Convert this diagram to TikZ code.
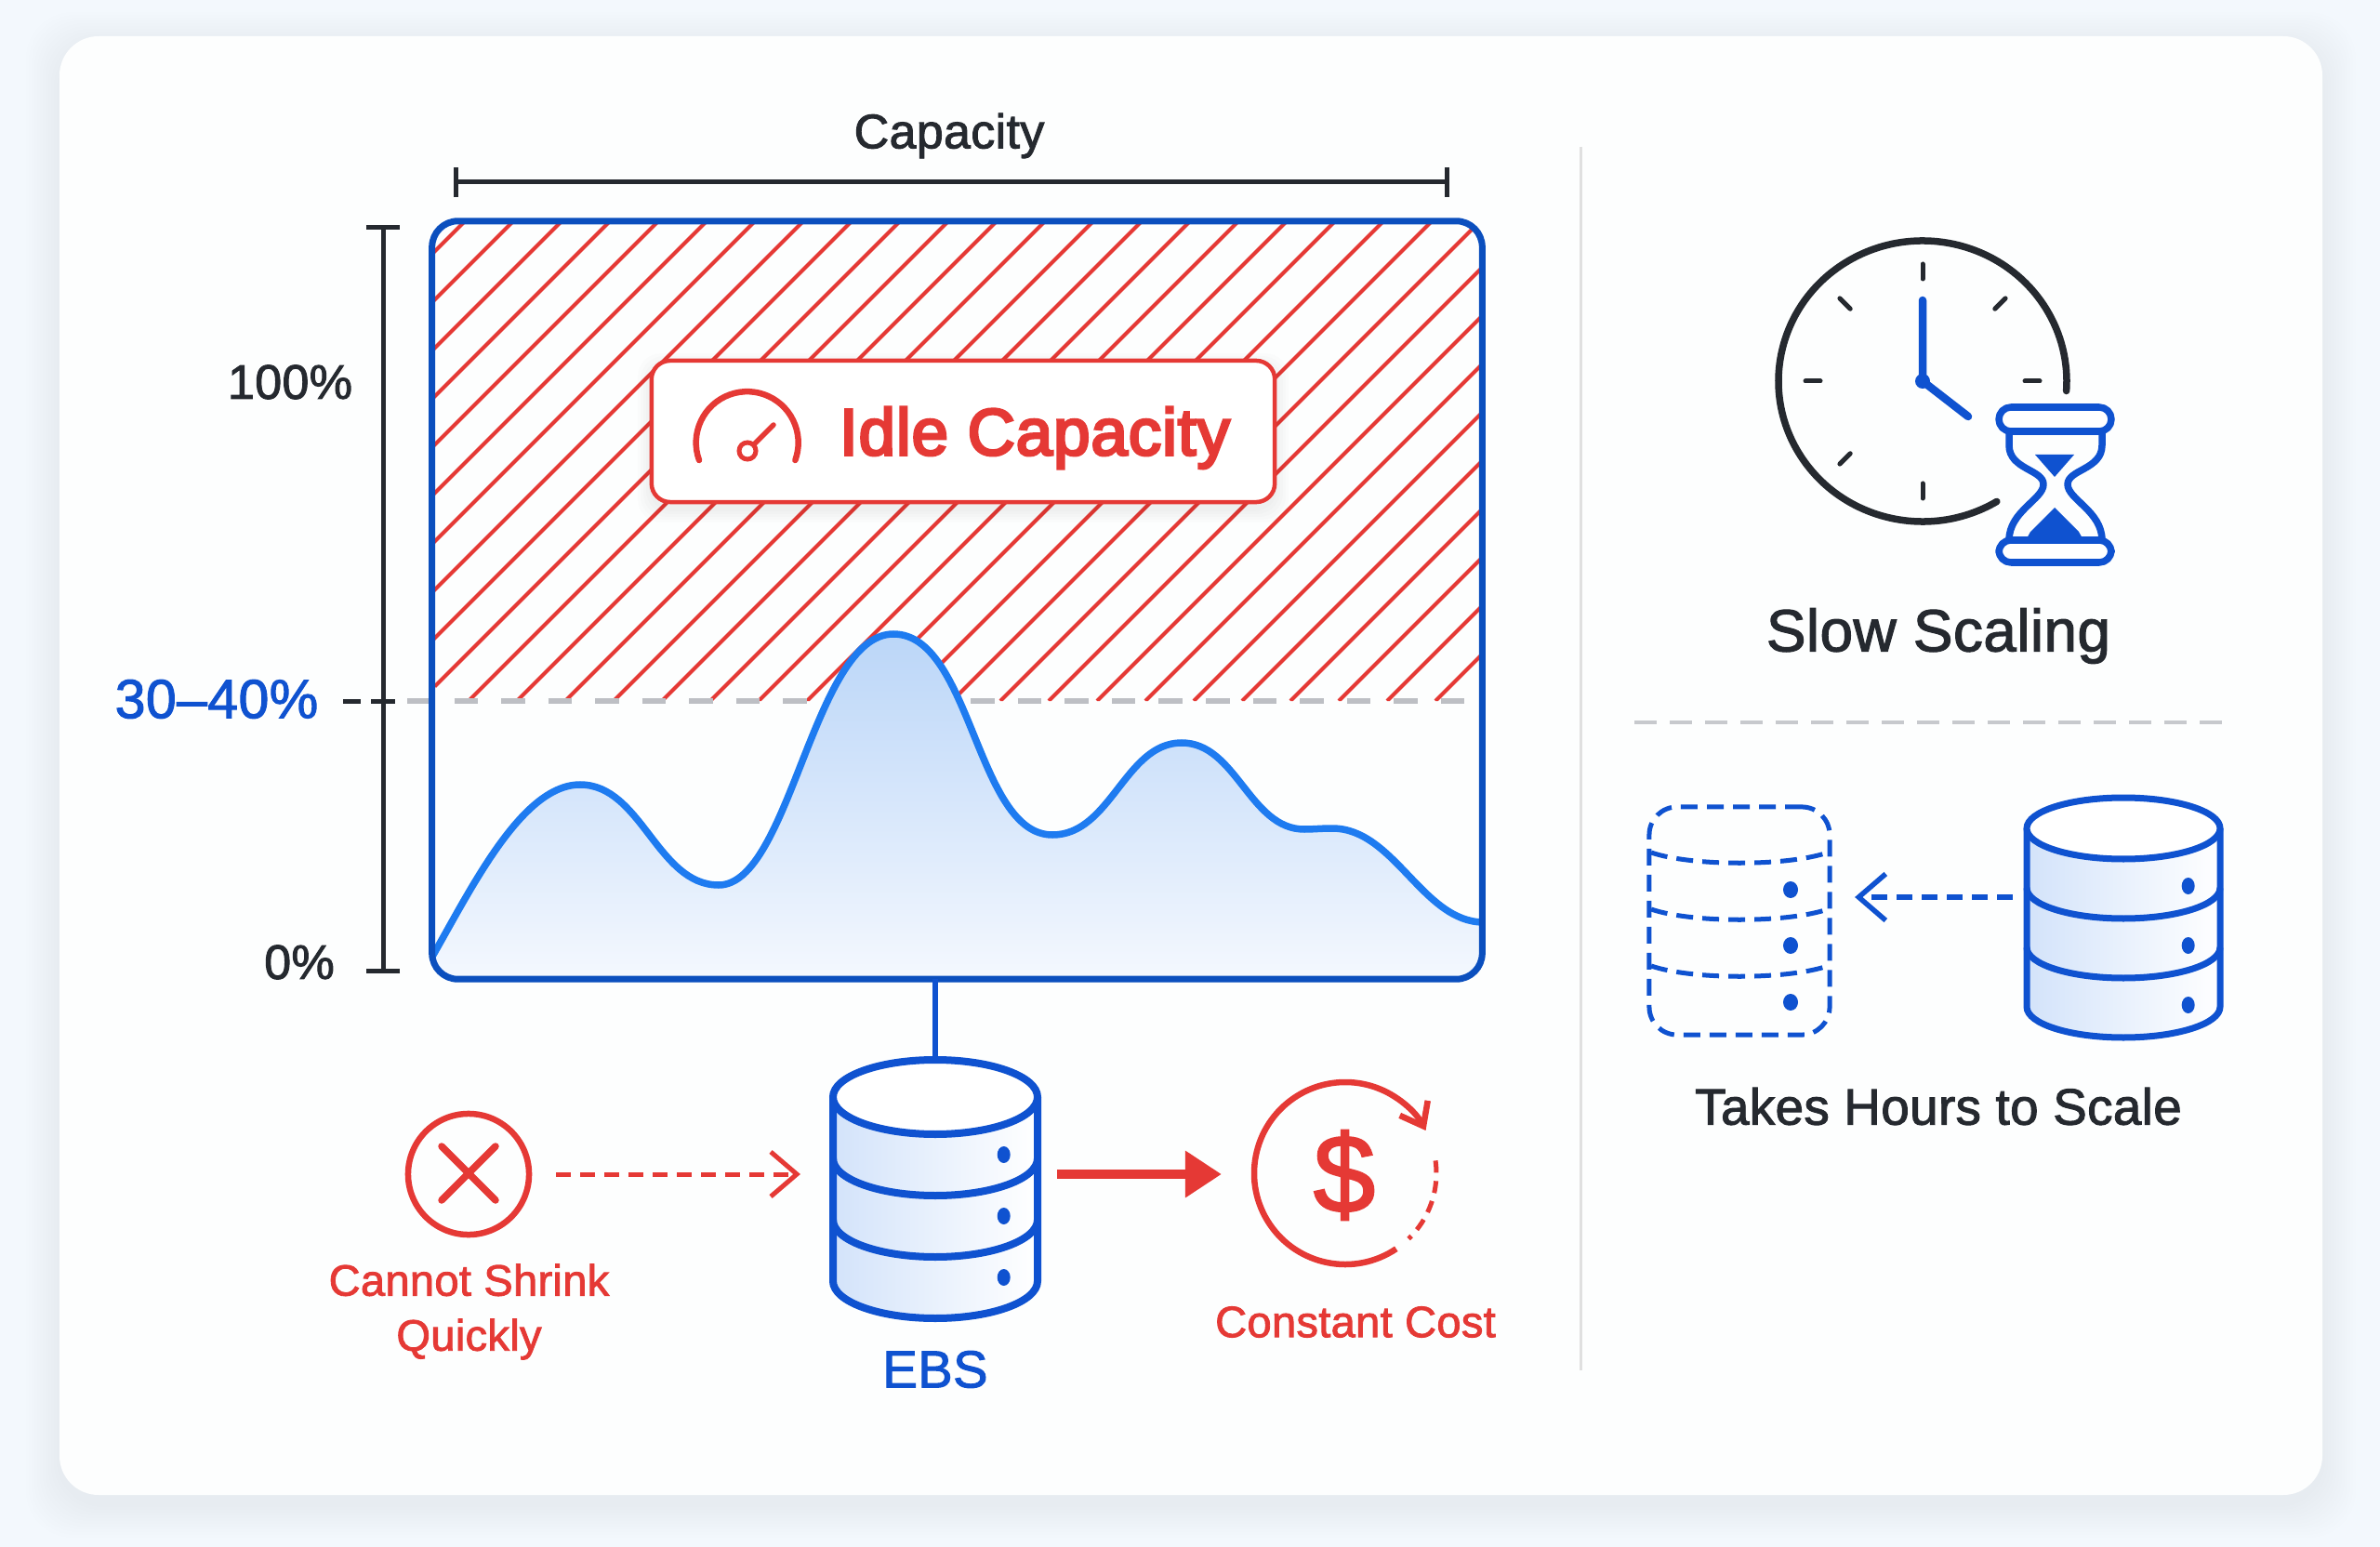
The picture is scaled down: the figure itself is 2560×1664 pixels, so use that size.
\documentclass[tikz,border=0pt]{standalone}
\usepackage{fontspec}
\setmainfont{Liberation Sans}
\newfontfamily\medfont[FakeBold=1.8,LetterSpace=0.6]{Liberation Sans}
\newfontfamily\semifont[FakeBold=4,LetterSpace=1.2]{Liberation Sans}
\usepackage{xcolor}
\usetikzlibrary{arrows.meta, positioning, calc}

\definecolor{pagebg}{HTML}{F3F8FD}
\definecolor{cardbg}{HTML}{FDFEFE}
\definecolor{cardshade}{HTML}{3A5A80}
\definecolor{frameblue}{HTML}{0B4FBE}
\definecolor{iconblue}{HTML}{0F52D0}
\definecolor{curveblue}{HTML}{1E7BF0}
\definecolor{alertred}{HTML}{E53935}
\definecolor{inkdark}{HTML}{25292F}
\definecolor{softgrey}{HTML}{BDBFC4}
\definecolor{tintA}{HTML}{D3E3FA}
\definecolor{tintB}{HTML}{EDF3FD}
\definecolor{fillA}{HTML}{BBD6F8}
\definecolor{fillB}{HTML}{F4F8FE}

\tikzset{
  chartframe/.style={draw=frameblue, line width=0.07cm, rounded corners=0.28cm, minimum width=11.29cm, minimum height=8.15cm, inner sep=0pt, outer sep=0pt},
  hatchline/.style={alertred, line width=0.04cm},
  idlebox/.style={draw=alertred, fill=white, line width=0.045cm, rounded corners=0.2cm, minimum width=6.7cm, minimum height=1.52cm, inner sep=0pt, outer sep=0pt},
  inkbar/.style={inkdark, line width=0.05cm},
  dimtext/.style={font=\medfont\fontsize{14.8}{18}\selectfont, text=inkdark, inner sep=0pt},
  redtext/.style={font=\medfont\fontsize{13.4}{16.8}\selectfont, text=alertred, inner sep=0pt, align=center},
  headtext/.style={font=\medfont, text=inkdark, inner sep=0pt},
  reddash/.style={alertred, line width=0.05cm, dash pattern=on 0.16cm off 0.10cm},
  bluedash/.style={iconblue, line width=0.055cm, dash pattern=on 0.17cm off 0.10cm},
  clockrim/.style={inkdark, line width=0.075cm, line cap=round},
  clockhand/.style={iconblue, line width=0.085cm, line cap=round},
  glass/.style={iconblue, line width=0.075cm, line join=round},
  dbanchor/.style={inner sep=0pt, outer sep=0pt},
}

% cx, top ellipse cy, half width, ellipse ry, band gap, line width (cm)
\newcommand{\dbstack}[6]{
  \foreach \b in {2,1,0} {
    \path[left color=tintA, middle color=tintB, right color=white]
      (#1-#3,{#2+\b*#5}) -- (#1-#3,{#2+(\b+1)*#5}) arc[start angle=180, end angle=0, x radius=#3, y radius=#4] -- (#1+#3,{#2+\b*#5}) -- cycle;
  }
  \draw[iconblue, line width=#6] (#1-#3,#2) -- (#1-#3,{#2+3*#5}) arc[start angle=180, end angle=0, x radius=#3, y radius=#4] -- (#1+#3,#2);
  \foreach \b in {1,2}
    \draw[iconblue, line width=#6] (#1-#3,{#2+\b*#5}) arc[start angle=180, end angle=0, x radius=#3, y radius=#4];
  \draw[iconblue, fill=white, line width=#6] (#1,#2) ellipse[x radius=#3, y radius=#4];
  \foreach \b in {0,1,2}
    \fill[iconblue] (#1+0.67*#3,{#2+62+\b*#5}) ellipse[x radius=7, y radius=9];
}
\newcommand{\usagecurve}{(462,1034) .. controls (505,960) and (560,844) .. (624,844) .. controls (690,844) and (707,952) .. (773,952) .. controls (850,952) and (875,682) .. (961,682) .. controls (1045,682) and (1050,898) .. (1132,898) .. controls (1195,898) and (1210,799) .. (1271,799) .. controls (1330,799) and (1344,892) .. (1403,892) .. controls (1413,892) and (1421,891) .. (1433,891) .. controls (1500,891) and (1530,992) .. (1596,992)}

\begin{document}
\begin{tikzpicture}[x=0.01cm, y=-0.01cm]
\useasboundingbox (0,0) rectangle (2560,1664);
\fill[pagebg] (0,0) rectangle (2560,1664);

% card
\foreach \d in {3,6,...,36}
    \fill[cardshade, opacity=0.005, rounded corners=0.5cm] (64-\d,39-\d+10) rectangle (2498+\d,1608+\d+10);
\fill[cardbg, rounded corners=0.42cm] (64,39) rectangle (2498,1608);

% hatched idle part
\begin{scope}
\clip[rounded corners=0.28cm] (465,238) -- (1594,238) -- (1594,754) -- (465,754) -- cycle;
\foreach \k in {0,...,31}
    \draw[hatchline] ({738+52*\k-754},754) -- ({738+52*\k-238},238);
\end{scope}

% threshold
\coordinate (levelL) at (438,754);
\coordinate (levelR) at (1594,754);
\draw[softgrey, line width=0.055cm, dash pattern=on 0.255cm off 0.25cm] (levelL) -- (levelR);

% usage curve
\begin{scope}
\clip[rounded corners=0.28cm] (465,238) rectangle (1594,1053);
\fill[top color=fillA, bottom color=fillB] \usagecurve -- (1596,1053) -- (462,1053) -- cycle;
\draw[curveblue, line width=0.075cm] \usagecurve;
\end{scope}
\node[chartframe] (chart) at (1029.5,645.5) {};

% idle label
\foreach \d in {3,6,...,15}
    \fill[black, opacity=0.012, rounded corners=0.25cm] (701-\d,388-\d+7) rectangle (1371+\d,540+\d+7);
\node[idlebox] (idle) at (1036,464) {};
\node[font=\semifont\fontsize{20.2}{24}\selectfont, text=alertred, inner sep=0pt] (idletext) at (1113,471) {Idle Capacity};
\draw[alertred, line width=0.065cm, line cap=round] (752,495) arc[start angle=160, end angle=380, radius=55];
\draw[alertred, line width=0.055cm, line cap=round] (812,477) -- (832,457);
\draw[alertred, fill=white, line width=0.05cm] (804,485) circle (9);

% capacity bracket
\node[dimtext] (caplabel) at (1021,146) {Capacity};
\coordinate (capL) at (488,196);
\coordinate (capR) at (1559,196);
\draw[inkbar, {Bar[width=0.32cm]}-{Bar[width=0.32cm]}] (capL) -- (capR);

% percent axis
\coordinate (axisT) at (412,242);
\coordinate (axisB) at (412,1047);
\draw[inkbar, {Bar[width=0.36cm]}-{Bar[width=0.36cm]}] (axisT) -- (axisB);
\draw[inkbar] (369,754) -- (388,754);
\draw[inkbar] (399,754) -- (425,754);
\node[dimtext] (fulllabel) at (312,411) {100\%};
\node[dimtext] (zerolabel) at (322,1035) {0\%};
\node[font=\medfont\fontsize{16.8}{20}\selectfont, text=iconblue, inner sep=0pt] (levellabel) at (233,752) {30–40\%};

% EBS
\dbstack{1006}{1180}{110}{40}{66}{0.08cm}
\node[dbanchor, minimum width=2.2cm, minimum height=2.78cm] (ebs) at (1006,1278) {};
\node[font=\medfont\fontsize{16}{19}\selectfont, text=iconblue, inner sep=0pt] (ebslabel) at (1006,1473) {EBS};
\draw[iconblue, line width=0.06cm] (ebs.north |- chart.south) -- (ebs.north);

% cannot shrink
\node[draw=alertred, circle, line width=0.065cm, minimum size=1.3cm, inner sep=0pt, outer sep=0pt] (shrink) at (504,1263) {};
\draw[alertred, line width=0.075cm, line cap=round] (475,1233) -- (533,1291);
\draw[alertred, line width=0.075cm, line cap=round] (475,1291) -- (533,1233);
\node[redtext] (shrinklabel) at (504.5,1411) {Cannot Shrink\\Quickly};
\coordinate (ebsL) at (ebs.west |- shrink);
\draw[reddash, -{Straight Barb[length=0.28cm, width=0.48cm]}, shorten <=0.29cm, shorten >=0.35cm] (shrink) -- (ebsL);

% constant cost
\node[minimum size=1.96cm, inner sep=0pt, outer sep=0pt, circle] (cost) at (1447,1263) {};
\draw[alertred, line width=0.065cm, -{Straight Barb[length=0.22cm, width=0.34cm]}] (1447,1262) ++(56:98) arc[start angle=56, end angle=332, radius=98];
\draw[alertred, line width=0.05cm, dash pattern=on 0.13cm off 0.09cm] (1447,1262) ++(-8:98) arc[start angle=-8, end angle=46, radius=98];
\node[font=\medfont\fontsize{34}{38}\selectfont, text=alertred, inner sep=0pt] (dollar) at (1446,1264) {\$};
\node[redtext] (costlabel) at (1458,1422) {Constant Cost};
\coordinate (ebsR) at (ebs.east |- cost);
\draw[alertred, line width=0.1cm, -{Triangle[length=0.39cm, width=0.48cm]}, shorten <=0.21cm, shorten >=0.35cm] (ebsR) -- (cost.west);

% divider
\coordinate (splitT) at (1700,158);
\coordinate (splitB) at (1700,1474);
\draw[black!12, line width=0.03cm] (splitT) -- (splitB);
\coordinate (ruleL) at (1758,777);
\coordinate (ruleR) at (2397,777);
\draw[softgrey!85, line width=0.04cm, dash pattern=on 0.24cm off 0.14cm] (ruleL) -- (ruleR);

% clock
\draw[clockrim] (2068,410) ++(59:155 and 151) arc[start angle=59, end angle=364, x radius=155, y radius=151];
\foreach \a in {-90,-45,0,90,135,180,225}
    \draw[inkdark, line width=0.05cm, line cap=round] (2068,410) ++(\a:110) -- ++(\a:16);
\draw[clockhand] (2068,323) -- (2068,410) -- (2117,448);
\fill[iconblue] (2068,410) circle (8);

% hourglass
\fill[iconblue] (2189,489) -- (2231,489) -- (2210,513) -- cycle;
\fill[iconblue] (2179,581) -- (2184,572) -- (2210,546) -- (2236,572) -- (2241,581) -- cycle;
\draw[glass] (2161,464) -- (2161,479) .. controls (2161,505) and (2198,505) .. (2198,521) .. controls (2198,537) and (2161,550) .. (2161,581);
\draw[glass] (2261,464) -- (2261,479) .. controls (2261,505) and (2224,505) .. (2224,521) .. controls (2224,537) and (2261,550) .. (2261,581);
\draw[glass, fill=white, rounded corners=0.13cm] (2150,438) rectangle (2271,464);
\draw[glass, fill=white, rounded corners=0.13cm] (2150,581) rectangle (2271,605);
\node[headtext, font=\medfont\fontsize{18.2}{22}\selectfont] (slowlabel) at (2085,684) {Slow Scaling};

% standby volume
\node[draw=iconblue, line width=0.05cm, dash pattern=on 0.18cm off 0.10cm, rounded corners=0.3cm, minimum width=1.94cm, minimum height=2.45cm, inner sep=0pt, outer sep=0pt] (ghost) at (1871,990.5) {};
\foreach \b in {0,1,2}
    \draw[iconblue, line width=0.05cm, dash pattern=on 0.18cm off 0.10cm] (1776,{917+\b*61}) .. controls (1820,{932+\b*61}) and (1922,{932+\b*61}) .. (1966,{917+\b*61});
\fill[iconblue] (1926,957) ellipse[x radius=8, y radius=9];
\fill[iconblue] (1926,1017) ellipse[x radius=8, y radius=9];
\fill[iconblue] (1926,1078) ellipse[x radius=8, y radius=9];

% live volume
\dbstack{2284}{891}{104}{33}{64}{0.07cm}
\node[dbanchor, minimum width=2.08cm, minimum height=2.57cm] (live) at (2284,986.5) {};
\coordinate (liveL) at (live.west |- 0,965);
\coordinate (ghostR) at (ghost.east |- 0,965);
\draw[bluedash, -{Straight Barb[length=0.29cm, width=0.5cm]}, shorten <=0.15cm, shorten >=0.27cm] (liveL) -- (ghostR);
\node[headtext, font=\medfont\fontsize{15.6}{19}\selectfont] (hourslabel) at (2085,1190) {Takes Hours to Scale};
\end{tikzpicture}
\end{document}
